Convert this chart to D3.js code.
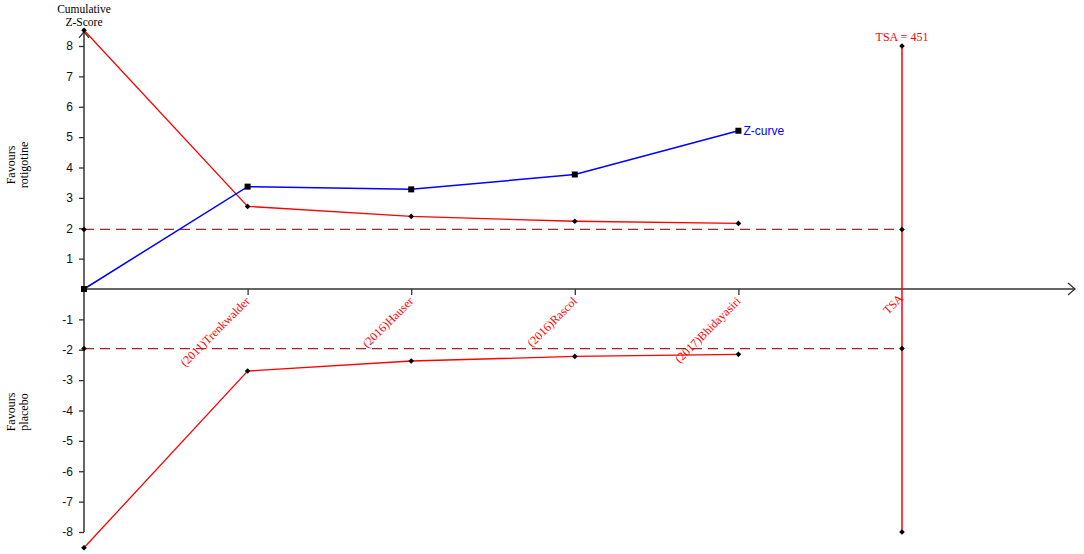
<!DOCTYPE html>
<html><head><meta charset="utf-8">
<script src="https://cdn.jsdelivr.net/npm/d3@7"></script>
<style>body{margin:0;background:#fff}svg{display:block}</style>
</head><body>
<svg id="c" width="1084" height="554"></svg>
<script>
const studies = ["", "(2011)Trenkwalder", "(2016)Hauser", "(2016)Rascol", "(2017)Bhidayasiri"];
const zCurve = [0, 3.37, 3.28, 3.77, 5.21];
const upperBoundary = [8.52, 2.72, 2.39, 2.23, 2.16];
const lowerBoundary = [-8.52, -2.70, -2.37, -2.22, -2.15];
const conventional = [1.96, -1.96];
const yTicks = [-8,-7,-6,-5,-4,-3,-2,-1,1,2,3,4,5,6,7,8];
const tsaIndex = 5;
const tsaLabel = "TSA = 451";
const tsaRange = [-8, 8];

const svg = d3.select("#c");
const x = d3.scaleLinear().domain([0, 5]).range([84, 902]);
const y = d3.scaleLinear().domain([-8, 8]).range([532, 46]);
const axisCol = "#333";
const serif = "'Liberation Serif', 'Times New Roman', serif";
const sans = "'Liberation Sans', Arial, sans-serif";

// y axis
const yAx = svg.append("g").attr("transform", `translate(${x(0)},0)`)
  .call(d3.axisLeft(y).tickValues(yTicks).tickFormat(d => d).tickSize(5).tickPadding(6));
yAx.select(".domain").remove();
yAx.selectAll("line").attr("stroke", axisCol).attr("stroke-width", 1.3);
yAx.selectAll("text").attr("font-family", sans).attr("font-size", 12).attr("fill", "#111");
svg.append("line").attr("x1", x(0)).attr("x2", x(0)).attr("y1", y(-8)).attr("y2", y(8.5))
  .attr("stroke", axisCol).attr("stroke-width", 1.5);
svg.append("path").attr("d", `M${x(0)-5},${y(8.5)+7} L${x(0)},${y(8.5)+1} L${x(0)+5},${y(8.5)+7}`)
  .attr("fill", "none").attr("stroke", axisCol).attr("stroke-width", 1.3);

// x axis
const xEnd = 1075;
svg.append("line").attr("x1", x(0)).attr("x2", xEnd).attr("y1", y(0)).attr("y2", y(0))
  .attr("stroke", axisCol).attr("stroke-width", 1.3);
svg.append("path").attr("d", `M${xEnd-7},${y(0)-6} L${xEnd},${y(0)} L${xEnd-7},${y(0)+6}`)
  .attr("fill", "none").attr("stroke", axisCol).attr("stroke-width", 1.3);
const xAx = svg.append("g").attr("transform", `translate(0,${y(0)})`)
  .call(d3.axisBottom(x).tickValues([1,2,3,4]).tickFormat("").tickSize(6));
xAx.select(".domain").remove();
xAx.selectAll("line").attr("stroke", axisCol).attr("stroke-width", 1.3);

// study labels
studies.forEach((s, i) => {
  if (!s) return;
  svg.append("text").attr("transform", `translate(${x(i)+3},${y(0)+13}) rotate(-45)`)
    .attr("text-anchor", "end").attr("font-family", serif).attr("font-size", 12)
    .attr("fill", "#ff0000").text(s);
});
svg.append("text").attr("transform", `translate(${x(tsaIndex)+2},${y(0)+10}) rotate(-45)`)
  .attr("text-anchor", "end").attr("font-family", serif).attr("font-size", 12)
  .attr("fill", "#ff0000").text("TSA");

// conventional boundaries
conventional.forEach(v => {
  svg.append("line").attr("x1", x(0)).attr("x2", x(tsaIndex)).attr("y1", y(v)).attr("y2", y(v))
    .attr("stroke", "#a0262a").attr("stroke-width", 1.3).attr("stroke-dasharray", "10,6");
});

// TSA line
svg.append("line").attr("x1", x(tsaIndex)).attr("x2", x(tsaIndex)).attr("y1", y(tsaRange[1])).attr("y2", y(tsaRange[0]))
  .attr("stroke", "#ff0000").attr("stroke-width", 1.5);
svg.append("text").attr("x", x(tsaIndex)).attr("y", 41).attr("text-anchor", "middle")
  .attr("font-family", serif).attr("font-size", 12).attr("fill", "#ff0000").text(tsaLabel);

const line = d3.line().x((d, i) => x(i)).y(d => y(d));
[upperBoundary, lowerBoundary].forEach(arr => {
  svg.append("path").attr("d", line(arr)).attr("fill", "none").attr("stroke", "#ff0000").attr("stroke-width", 1.3);
});
svg.append("path").attr("d", line(zCurve)).attr("fill", "none").attr("stroke", "#0000ff").attr("stroke-width", 1.5);

const diamond = d3.symbol().type(d3.symbolSquare).size(16);
function dia(cx, cy) {
  svg.append("path").attr("d", diamond()).attr("transform", `translate(${cx},${cy}) rotate(45)`).attr("fill", "#000");
}
upperBoundary.forEach((v, i) => dia(x(i), y(v)));
lowerBoundary.forEach((v, i) => dia(x(i), y(v)));
[tsaRange[1], conventional[0], conventional[1], tsaRange[0]].forEach(v => dia(x(tsaIndex), y(v)));
conventional.forEach(v => dia(x(0), y(v)));
zCurve.forEach((v, i) => {
  svg.append("rect").attr("x", x(i)-3).attr("y", y(v)-3).attr("width", 6).attr("height", 6).attr("fill", "#000");
});
svg.append("text").attr("x", x(4)+5).attr("y", y(zCurve[4])+4).attr("font-family", sans)
  .attr("font-size", 12).attr("fill", "#0000ff").text("Z-curve");

// axis titles
svg.append("text").attr("x", x(0)).attr("y", 13).attr("text-anchor", "middle").attr("font-family", serif)
  .attr("font-size", 11.5).attr("fill", "#000").text("Cumulative");
svg.append("text").attr("x", x(0)).attr("y", 26).attr("text-anchor", "middle").attr("font-family", serif)
  .attr("font-size", 11.5).attr("fill", "#000").text("Z-Score");
function side(cy, l1, l2) {
  const g = svg.append("g").attr("transform", `translate(17,${cy}) rotate(-90)`);
  g.append("text").attr("x", 0).attr("y", -2).attr("text-anchor", "middle").attr("font-family", serif)
    .attr("font-size", 12).text(l1);
  g.append("text").attr("x", 0).attr("y", 11).attr("text-anchor", "middle").attr("font-family", serif)
    .attr("font-size", 12).text(l2);
}
side(165, "Favours", "rotigotine");
side(412, "Favours", "placebo");
</script>
</body></html>
